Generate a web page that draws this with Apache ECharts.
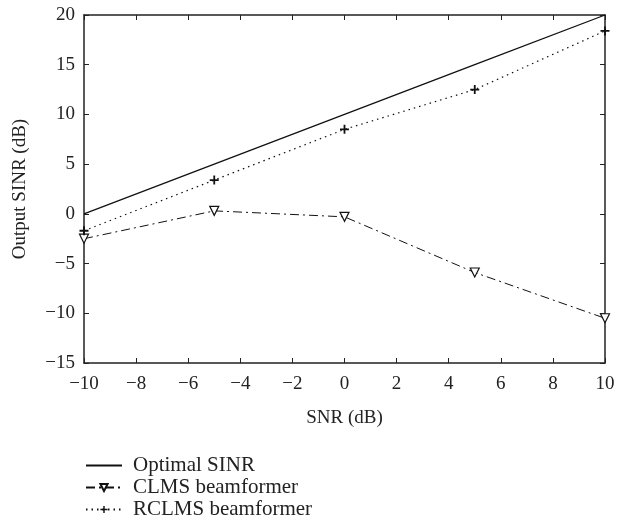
<!DOCTYPE html>
<html><head><meta charset="utf-8">
<script src="https://cdn.jsdelivr.net/npm/echarts@6/dist/echarts.min.js"></script>
<style>html,body{margin:0;padding:0;background:#fff}#c{width:620px;height:528px}</style>
</head><body><div id="c"></div>
<script>
const snr = [-10, -5, 0, 5, 10];
const optimalSINR = [0, 5, 10, 15, 20];
const clms = [-2.5, 0.3, -0.3, -5.9, -10.5];
const rclms = [-1.7, 3.4, 8.5, 12.5, 18.4];
const xTicks = [-10, -8, -6, -4, -2, 0, 2, 4, 6, 8, 10];
const yTicks = [-15, -10, -5, 0, 5, 10, 15, 20];

const font = 'Liberation Serif';
const ax = '#222';
const chart = echarts.init(document.getElementById('c'));
const pairs = a => snr.map((x, i) => [x, a[i]]);
const fmt = v => String(v).replace('-', '\u2212');
const axisCommon = {
  axisLine: {show: true, onZero: false, lineStyle: {color: ax, width: 1.5}},
  axisTick: {show: true, inside: true, length: 5, lineStyle: {color: ax, width: 1}},
  splitLine: {show: false}
};
chart.setOption({
  animation: false,
  textStyle: {fontFamily: font},
  grid: {left: 84, right: 15, top: 15, bottom: 165},
  legend: {
    orient: 'vertical', left: 80, top: 450, itemGap: 1, itemWidth: 36, itemHeight: 9,
    textStyle: {fontFamily: font, fontSize: 21, color: '#222', padding: [0, 0, 0, 6]},
    data: [
      {name: 'Optimal SINR', itemStyle: {opacity: 0}},
      'CLMS beamformer', 'RCLMS beamformer'
    ]
  },
  xAxis: [
    Object.assign({type: 'value', min: -10, max: 10, interval: 2, position: 'bottom',
      name: 'SNR (dB)', nameLocation: 'middle', nameGap: 46,
      nameTextStyle: {fontFamily: font, fontSize: 19, color: '#222'},
      axisLabel: {fontFamily: font, fontSize: 19, color: '#222', margin: 12, formatter: fmt}}, axisCommon),
    Object.assign({type: 'value', min: -10, max: 10, interval: 2, position: 'top',
      axisLabel: {show: false}}, axisCommon)
  ],
  yAxis: [
    Object.assign({type: 'value', min: -15, max: 20, interval: 5, position: 'left',
      name: 'Output SINR (dB)', nameLocation: 'middle', nameGap: 54, nameRotate: 90,
      nameTextStyle: {fontFamily: font, fontSize: 19, color: '#222'},
      axisLabel: {fontFamily: font, fontSize: 19, color: '#222', margin: 9, formatter: fmt}}, axisCommon),
    Object.assign({type: 'value', min: -15, max: 20, interval: 5, position: 'right',
      axisLabel: {show: false}}, axisCommon)
  ],
  series: [
    {name: 'Optimal SINR', type: 'line', data: pairs(optimalSINR), showSymbol: false,
      symbol: 'none', lineStyle: {color: '#111', width: 1.3, type: 'solid'}, itemStyle: {color: '#111'}},
    {name: 'CLMS beamformer', type: 'line', data: pairs(clms), symbol: 'triangle', symbolRotate: 180,
      symbolSize: 9, lineStyle: {color: '#111', width: 1, type: [9, 4, 2, 4]},
      itemStyle: {color: '#fff', borderColor: '#111', borderWidth: 1.2}},
    {name: 'RCLMS beamformer', type: 'line', data: pairs(rclms),
      symbol: 'path://M4,0L6,0L6,4L10,4L10,6L6,6L6,10L4,10L4,6L0,6L0,4L4,4Z',
      symbolSize: 9, lineStyle: {color: '#111', width: 1.2, type: [1.5, 4]},
      itemStyle: {color: '#111'}}
  ]
});
</script></body></html>
